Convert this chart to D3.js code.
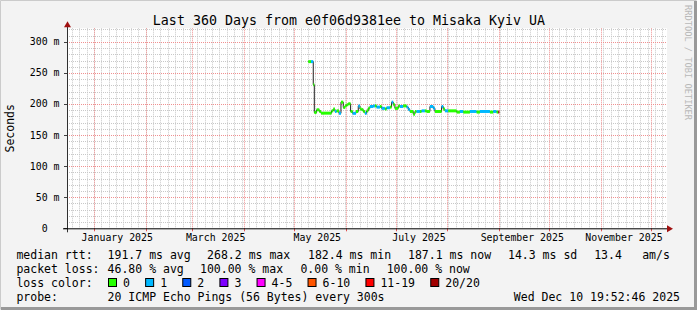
<!DOCTYPE html>
<html><head><meta charset="utf-8">
<script src="https://cdn.jsdelivr.net/npm/d3@7"></script>
<style>
html,body{margin:0;padding:0;background:#f3f3f3;}
svg{display:block;font-family:"DejaVu Sans Mono",monospace;}
text{white-space:pre;}
</style></head><body>
<svg id="c" width="697" height="310"></svg>
<script>
// ---------------- data ----------------
const titleText = "Last 360 Days from e0f06d9381ee to Misaka Kyiv UA";
const yAxisLabel = "Seconds";
const yTickValues = [0, 50, 100, 150, 200, 250, 300];
const yTickLabels = ["0  ", "50 m", "100 m", "150 m", "200 m", "250 m", "300 m"];
const xLabelMonths = ["2025-01", "2025-03", "2025-05", "2025-07", "2025-09", "2025-11"];
const xLabelTexts = ["January 2025", "March 2025", "May 2025", "July 2025", "September 2025", "November 2025"];
const endTime = "2025-12-10T19:52:46Z";
const spanDays = 360;
const yMax = 321.84;

const sampleTimes = [
 "2025-05-09T14:00","2025-05-11T05:00","2025-05-12T14:00","2025-05-13T05:00","2025-05-14T14:00",
 "2025-05-16T05:00","2025-05-17T05:00","2025-05-23T14:00","2025-05-24T14:00","2025-05-25T14:00",
 "2025-05-26T14:00","2025-05-28T00:00","2025-05-29T05:00","2025-05-30T14:00","2025-05-31T14:00",
 "2025-06-01T14:00","2025-06-02T14:00","2025-06-04T00:00","2025-06-05T05:00","2025-06-07T05:00",
 "2025-06-08T14:00","2025-06-09T14:00","2025-06-10T14:00","2025-06-11T14:00","2025-06-12T14:00",
 "2025-06-13T14:00","2025-06-14T14:00","2025-06-15T14:00","2025-06-17T14:00","2025-06-18T14:00",
 "2025-06-19T14:00","2025-06-21T14:00","2025-06-22T14:00","2025-06-24T14:00","2025-06-25T14:00",
 "2025-06-27T14:00","2025-06-28T14:00","2025-06-29T14:00","2025-06-30T14:00","2025-07-02T14:00",
 "2025-07-03T14:00","2025-07-05T14:00","2025-07-07T14:00","2025-07-08T14:00","2025-07-09T14:00",
 "2025-07-11T14:00","2025-07-12T14:00","2025-07-13T14:00","2025-07-15T14:00","2025-07-16T14:00",
 "2025-07-18T14:00","2025-07-19T14:00","2025-07-21T14:00","2025-07-23T14:00","2025-07-24T14:00",
 "2025-07-28T14:00","2025-07-29T14:00","2025-07-30T14:00","2025-08-01T14:00","2025-08-06T14:00",
 "2025-08-08T14:00","2025-08-10T14:00","2025-08-14T14:00","2025-08-18T14:00","2025-08-20T14:00",
 "2025-08-26T14:00","2025-08-28T14:00","2025-08-30T14:00","2025-08-31T14:00","2025-09-01T05:00"
];
const medianMs = [
 268.2, 268.2, 231, 186.4, 190.7,
 188, 185.3, 189, 191.8, 188,
 189, 185, 203, 194.5, 197,
 198.8, 200.4, 188, 185, 188,
 197, 192, 191, 188, 185,
 189, 193, 196, 197, 197,
 195, 196, 193, 192, 194,
 195, 203, 199, 193, 197,
 196, 197, 195, 191, 188,
 183.7, 188, 188, 188, 189,
 189, 188, 196, 193, 188,
 196, 192, 189, 189, 187,
 188, 187, 188, 187, 188,
 187, 188, 187, 187.1, 187.1
];
const lossCount = [
 0, 1, 0, 0, 0,
 0, 0, 0, 0, 1,
 0, 1, 0, 0, 0,
 0, 0, 0, 1, 0,
 1, 0, 0, 0, 1,
 0, 0, 1, 1, 0,
 1, 0, 1, 0, 1,
 0, 1, 0, 0, 0,
 1, 0, 1, 1, 0,
 0, 0, 1, 0, 1,
 0, 0, 1, 1, 0,
 1, 0, 1, 0, 0,
 1, 0, 1, 0, 1,
 0, 1, 0, 20, 20
];

const lossBandLabels = ["0", "1", "2", "3", "4-5", "6-10", "11-19", "20/20"];
const lossBandMax = [0, 1, 2, 3, 5, 10, 19, 20];
const lossBandColors = ["#26ff00", "#00b8ff", "#0059ff", "#7e00ff", "#ff00ff", "#ff5500", "#ff0000", "#a10000"];

const rttRowLabel = "median rtt:";
const rttRowItems = ["191.7 ms avg", "268.2 ms max", "182.4 ms min", "187.1 ms now", "14.3 ms sd", "13.4", "am/s"];
const lossRowLabel = "packet loss:";
const lossRowItems = ["46.80 % avg", "100.00 % max", "0.00 % min", "100.00 % now"];
const colorRowLabel = "loss color:";
const probeRowLabel = "probe:";
const probeText = "20 ICMP Echo Pings (56 Bytes) every 300s";
const stampText = "Wed Dec 10 19:52:46 2025";
const watermark = "RRDTOOL / TOBI OETIKER";

// ---------------- layout ----------------
const W = 697, H = 310;
const L = 67, R = 667, T = 28.3, B = 228.3;
const svg = d3.select("#c");

svg.append("rect").attr("x",0).attr("y",0).attr("width",W).attr("height",H).attr("fill","#f3f3f3");
svg.append("path").attr("d",`M0.5,${H-0.5}V0.5H${W-0.5}`).attr("fill","none").attr("stroke","#cbcbcb").attr("stroke-width",1);
svg.append("path").attr("d",`M1,${H-1.5}H${W-1.5}V1`).attr("fill","none").attr("stroke","#999999").attr("stroke-width",3);

const end = new Date(endTime);
const start = new Date(end.getTime() - spanDays*86400000);
const x = d3.scaleUtc().domain([start, end]).range([L, R]);
const y = d3.scaleLinear().domain([0, yMax]).range([B, T]);

svg.append("rect").attr("x",L).attr("y",T).attr("width",R-L).attr("height",B-T).attr("fill","#ffffff");

const grid = svg.append("g");
d3.range(10, yMax, 10).filter(v => v % 50 !== 0).forEach(v => {
  grid.append("line").attr("x1",L).attr("x2",R).attr("y1",Math.round(y(v))+0.5).attr("y2",Math.round(y(v))+0.5)
    .attr("stroke","#c8c8c8").attr("stroke-dasharray","1,1");
});
const minorStep = 4.43*86400000;
for (let t = d3.utcMonth.ceil(start).getTime() - 7*minorStep; t < end.getTime(); t += minorStep) {
  const xx = x(new Date(t));
  if (xx <= L || xx >= R) continue;
  grid.append("line").attr("x1",Math.round(xx)+0.5).attr("x2",Math.round(xx)+0.5).attr("y1",T).attr("y2",B)
    .attr("stroke","#c8c8c8").attr("stroke-dasharray","1,1");
}
yTickValues.filter(v => v > 0).forEach(v => {
  grid.append("line").attr("x1",L).attr("x2",R).attr("y1",Math.round(y(v))+0.5).attr("y2",Math.round(y(v))+0.5)
    .attr("stroke","#f09090").attr("stroke-dasharray","1,1");
});
d3.utcMonth.range(d3.utcMonth.ceil(start), end).forEach(d => {
  const xx = Math.round(x(d))+0.5;
  grid.append("line").attr("x1",xx).attr("x2",xx).attr("y1",T).attr("y2",B)
    .attr("stroke","#f09090").attr("stroke-dasharray","1,1");
  svg.append("line").attr("x1",xx).attr("x2",xx).attr("y1",B).attr("y2",B+3).attr("stroke","#e05050");
});

const yLab = svg.append("g").attr("font-size","9.9px").attr("fill","#000");
yTickValues.forEach((v,i) => {
  yLab.append("text").attr("x",59.5).attr("y",y(v)).attr("dy","0.35em").attr("text-anchor","end").text(yTickLabels[i]);
  svg.append("line").attr("x1",L-3).attr("x2",L).attr("y1",Math.round(y(v))+0.5).attr("y2",Math.round(y(v))+0.5).attr("stroke","#404040");
});
xLabelMonths.forEach((m,i) => {
  const d = new Date(m + "-15T00:00:00Z");
  svg.append("text").attr("x",x(d)).attr("y",238).attr("dy","0.35em").attr("text-anchor","middle")
    .attr("font-size","9.9px").text(xLabelTexts[i]);
});

const pts = sampleTimes.map((t,i) => ({t:new Date(t+":00Z"), v:medianMs[i], l:lossCount[i]}));
const bandIndex = l => lossBandMax.findIndex(m => l <= m);
const line = d3.line().x(d => x(d.t)).y(d => y(d.v)).curve(d3.curveStepAfter);
svg.append("path").attr("d", line(pts)).attr("fill","none").attr("stroke","#202020").attr("stroke-width",1);
const segs = svg.append("g");
for (let i = 0; i < pts.length-1; i++) {
  segs.append("line").attr("x1",x(pts[i].t)).attr("x2",x(pts[i+1].t))
    .attr("y1",y(pts[i].v)).attr("y2",y(pts[i].v))
    .attr("stroke",lossBandColors[bandIndex(pts[i].l)]).attr("stroke-width",3);
}

svg.append("line").attr("x1",L+0.5).attr("x2",L+0.5).attr("y1",B+4).attr("y2",T-4).attr("stroke","#303030");
svg.append("line").attr("x1",L-4).attr("x2",R+4).attr("y1",B+0.5).attr("y2",B+0.5).attr("stroke","#000");
svg.append("path").attr("d",`M${L+0.5},${T-7}L${L-3},${T-1}L${L+4},${T-1}Z`).attr("fill","#a01010");
svg.append("path").attr("d",`M${R+6},${B+0.5}L${R},${B-3}L${R},${B+4}Z`).attr("fill","#a01010");

svg.append("text").attr("x",(W)/2+0.5).attr("y",20).attr("dy","0.35em").attr("text-anchor","middle")
  .attr("font-size","13.3px").text(titleText);
svg.append("text").attr("transform",`translate(10,${(T+B)/2}) rotate(-90)`).attr("dy","0.35em")
  .attr("text-anchor","middle").attr("font-size","11.5px").text(yAxisLabel);
svg.append("text").attr("transform",`translate(688,5) rotate(90)`).attr("dy","0.35em")
  .attr("font-size","8.7px").attr("fill","#b8b8b8").text(watermark);

const lg = svg.append("g").attr("font-size","11.5px").attr("fill","#000");
const rttX = [16.4, 107.6, 207.1, 308, 408, 508, 594.2, 642.2];
const lossX = [16.4, 107.6, 200, 300.4, 386.7];
const rowY = [255, 269, 283, 297];
lg.append("text").attr("x",rttX[0]).attr("y",rowY[0]).attr("dy","0.35em").text(rttRowLabel);
rttRowItems.forEach((s,i) => lg.append("text").attr("x",rttX[i+1]).attr("y",rowY[0]).attr("dy","0.35em").text(s));
lg.append("text").attr("x",lossX[0]).attr("y",rowY[1]).attr("dy","0.35em").text(lossRowLabel);
lossRowItems.forEach((s,i) => lg.append("text").attr("x",lossX[i+1]).attr("y",rowY[1]).attr("dy","0.35em").text(s));
lg.append("text").attr("x",16.4).attr("y",rowY[2]).attr("dy","0.35em").text(colorRowLabel);
let bx = 108;
lossBandLabels.forEach((s,i) => {
  lg.append("rect").attr("x",bx+0.5).attr("y",rowY[2]-4.5).attr("width",8).attr("height",8)
    .attr("fill",lossBandColors[i]).attr("stroke","#000");
  const t = lg.append("text").attr("x",bx+15).attr("y",rowY[2]).attr("dy","0.35em").text(s);
  bx += 15 + t.node().getComputedTextLength() + 15.2;
});
lg.append("text").attr("x",16.4).attr("y",rowY[3]).attr("dy","0.35em").text(probeRowLabel);
lg.append("text").attr("x",107.6).attr("y",rowY[3]).attr("dy","0.35em").text(probeText);
lg.append("text").attr("x",680).attr("y",rowY[3]).attr("dy","0.35em").attr("text-anchor","end").text(stampText);
</script>
</body></html>
